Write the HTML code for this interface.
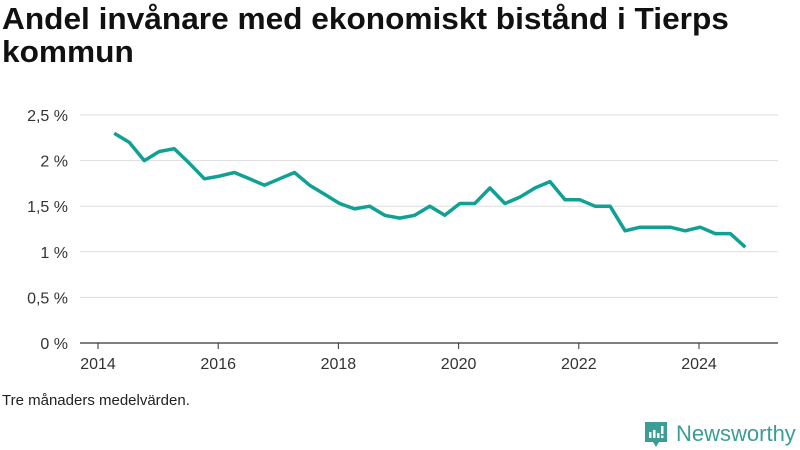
<!DOCTYPE html>
<html><head><meta charset="utf-8"><style>
body{margin:0;width:800px;height:450px;background:#fff;font-family:"Liberation Sans",sans-serif;overflow:hidden;position:relative}
h1{position:absolute;left:2px;top:2px;margin:0;font-size:31px;line-height:33px;font-weight:bold;color:#111;transform:scaleX(1.02);transform-origin:0 0;white-space:nowrap}
.note{position:absolute;left:2px;top:392px;font-size:15px;color:#222}
.logo{position:absolute;left:644px;top:420px;display:flex;align-items:center;color:#3a9d96;font-size:22px}
</style></head><body>
<h1>Andel invånare med ekonomiskt bistånd i Tierps<br>kommun</h1>
<svg width="800" height="450" style="position:absolute;left:0;top:0">
<g id="grid"></g><g id="xaxis"></g><path id="line" fill="none" stroke="#10a094" stroke-width="3.5" stroke-linejoin="round"/>
</svg>
<div class="note">Tre månaders medelvärden.</div>
<div class="logo">
<svg width="24" height="28" viewBox="0 0 24 28"><path d="M1 2h22v20H15l-3 5-3-5H1z" fill="#3a9d96"/><rect x="5" y="12" width="2.5" height="6" fill="#fff"/><rect x="9" y="10" width="2.5" height="8" fill="#fff"/><rect x="13" y="13" width="2.5" height="5" fill="#fff"/><rect x="17" y="6" width="2.5" height="8" fill="#fff"/><rect x="17" y="15.5" width="2.5" height="2.5" fill="#fff"/></svg>
<span style="margin-left:8px">Newsworthy</span></div>
<script>
const startYear = 2014.27;
const values = [2.3,2.2,2.0,2.1,2.13,1.97,1.8,1.83,1.87,1.8,1.73,1.8,1.87,1.73,1.63,1.53,1.47,1.5,1.4,1.37,1.4,1.5,1.4,1.53,1.53,1.7,1.53,1.6,1.7,1.77,1.57,1.57,1.5,1.5,1.23,1.27,1.27,1.27,1.23,1.27,1.2,1.2,1.05];
const yTicks = [0,0.5,1,1.5,2,2.5];
const yLabels = ["0 %","0,5 %","1 %","1,5 %","2 %","2,5 %"];
const xTicks = [2014,2016,2018,2020,2022,2024];
const X = y => 98 + (y - 2014) * 60.1;
const Y = v => 343 - v * 91.2;
const ns = "http://www.w3.org/2000/svg";
const grid = document.getElementById('grid');
yTicks.forEach((t,i)=>{
  const l=document.createElementNS(ns,'line');
  
  
  l.setAttribute('x1',80);l.setAttribute('x2',778);l.setAttribute('y1',Y(t));l.setAttribute('y2',Y(t));
  l.setAttribute('stroke',i==0?'#333':'#ddd');l.setAttribute('stroke-width',i==0?1.2:1);
  grid.appendChild(l);
  const tx=document.createElementNS(ns,'text');
  
  
  tx.setAttribute('x',68);tx.setAttribute('y',Y(t)+6);tx.setAttribute('text-anchor','end');
  tx.setAttribute('font-size','16');tx.setAttribute('fill','#333');
  tx.textContent=yLabels[i];grid.appendChild(tx);
});
const xa=document.getElementById('xaxis');
xTicks.forEach(t=>{
  const l=document.createElementNS(ns,'line');
  
  
  l.setAttribute('x1',X(t));l.setAttribute('x2',X(t));l.setAttribute('y1',343);l.setAttribute('y2',349);
  l.setAttribute('stroke','#333');xa.appendChild(l);
  const tx=document.createElementNS(ns,'text');
  
  
  tx.setAttribute('x',X(t));tx.setAttribute('y',369);tx.setAttribute('text-anchor','middle');
  tx.setAttribute('font-size','16');tx.setAttribute('fill','#333');
  tx.textContent=t;xa.appendChild(tx);
});
const line=document.getElementById('line');


line.setAttribute('d',values.map((v,i)=>(i?'L':'M')+X(startYear+i*0.25).toFixed(1)+','+Y(v).toFixed(1)).join(''));
</script>
</body></html>
